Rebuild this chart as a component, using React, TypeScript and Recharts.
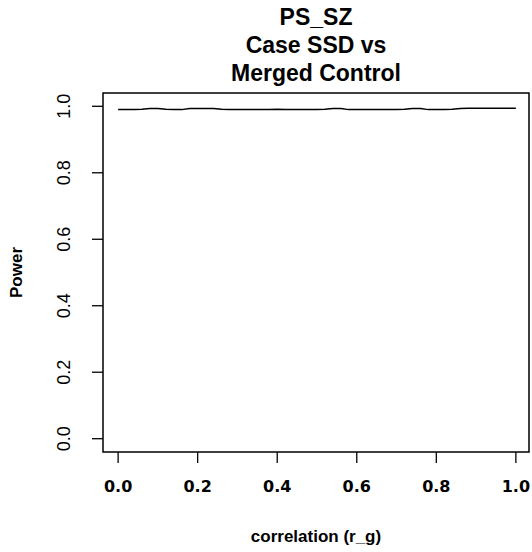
import React from 'react';
import { LineChart, Line, XAxis, YAxis, ReferenceArea, Label } from 'recharts';

// correlation (r_g) grid
const rg = [
  0.0, 0.02, 0.04, 0.06, 0.08, 0.1, 0.12, 0.14, 0.16, 0.18,
  0.2, 0.22, 0.24, 0.26, 0.28, 0.3, 0.32, 0.34, 0.36, 0.38,
  0.4, 0.42, 0.44, 0.46, 0.48, 0.5, 0.52, 0.54, 0.56, 0.58,
  0.6, 0.62, 0.64, 0.66, 0.68, 0.7, 0.72, 0.74, 0.76, 0.78,
  0.8, 0.82, 0.84, 0.86, 0.88, 0.9, 0.92, 0.94, 0.96, 0.98, 1.0,
];

// estimated power at each r_g
const power = [
  0.99, 0.99, 0.99, 0.991, 0.993, 0.993, 0.991, 0.99, 0.99, 0.993,
  0.993, 0.993, 0.993, 0.991, 0.99, 0.99, 0.99, 0.99, 0.99, 0.99,
  0.991, 0.99, 0.99, 0.99, 0.99, 0.99, 0.991, 0.993, 0.993, 0.99,
  0.99, 0.99, 0.99, 0.99, 0.99, 0.99, 0.991, 0.993, 0.993, 0.99,
  0.99, 0.99, 0.991, 0.993, 0.994, 0.994, 0.994, 0.994, 0.994, 0.994, 0.994,
];

const xTicks = [0, 0.2, 0.4, 0.6, 0.8, 1.0];
const yTicks = [0, 0.2, 0.4, 0.6, 0.8, 1.0];
const titleLines = ['PS_SZ', 'Case SSD vs', 'Merged Control'];

const data = rg.map((r, i) => ({ r, power: power[i] }));

const xDomain: [number, number] = [-0.038, 1.033];
const yDomain: [number, number] = [-0.04, 1.04];

const YTick = (props: any) => {
  const { x, y, payload } = props;
  const tx = x - 20;
  return (
    <text
      x={tx}
      y={y}
      transform={`rotate(-90 ${tx} ${y})`}
      textAnchor="middle"
      fontFamily="'Liberation Sans', Arial, sans-serif"
      fontSize={18}
      fill="#000"
    >
      {Number(payload.value).toFixed(1)}
    </text>
  );
};

const App: React.FC = () => {
  return (
    <div style={{ position: 'fixed', top: 0, left: 0, width: 532, height: 552, background: '#fff' }}>
      <div
        style={{
          position: 'absolute',
          top: 3,
          left: 0,
          width: 632,
          textAlign: 'center',
          fontFamily: "'Liberation Sans', Arial, sans-serif",
          fontWeight: 'bold',
          fontSize: 23,
          lineHeight: '28px',
          color: '#000',
        }}
      >
        {titleLines.map((t) => (
          <div key={t}>{t}</div>
        ))}
      </div>
      <LineChart
        width={532}
        height={552}
        data={data}
        margin={{ top: 93, right: 3, bottom: 0, left: 0 }}
      >
        <XAxis
          dataKey="r"
          type="number"
          domain={xDomain}
          ticks={xTicks}
          allowDataOverflow
          axisLine={false}
          tickSize={11}
          tickMargin={18}
          height={100}
          tickLine={{ stroke: '#000', strokeWidth: 1.3 }}
          tick={{
            fill: '#000',
            fontSize: 16,
            fontWeight: 'bold',
            fontFamily: "'DejaVu Sans', sans-serif",
          }}
          tickFormatter={(v: number) => v.toFixed(1)}
        >
          <Label
            value="correlation (r_g)"
            position="insideBottom"
            offset={10}
            style={{
              fill: '#000',
              fontSize: 17,
              fontWeight: 'bold',
              fontFamily: "'Liberation Sans', Arial, sans-serif",
            }}
          />
        </XAxis>
        <YAxis
          type="number"
          domain={yDomain}
          ticks={yTicks}
          allowDataOverflow
          axisLine={false}
          width={103}
          tickSize={11}
          tickLine={{ stroke: '#000', strokeWidth: 1.3 }}
          tick={<YTick />}
        >
          <Label
            content={(p: any) => {
              const vb = p.viewBox || { x: 0, y: 93, width: 103, height: 359 };
              const cx = vb.x + 16;
              const cy = vb.y + vb.height / 2;
              return (
                <text
                  x={cx}
                  y={cy}
                  transform={`rotate(-90 ${cx} ${cy})`}
                  textAnchor="middle"
                  dominantBaseline="central"
                  fontFamily="'Liberation Sans', Arial, sans-serif"
                  fontWeight="bold"
                  fontSize={17}
                  fill="#000"
                >
                  Power
                </text>
              );
            }}
          />
        </YAxis>
        <ReferenceArea
          x1={xDomain[0]}
          x2={xDomain[1]}
          y1={yDomain[0]}
          y2={yDomain[1]}
          fill="none"
          stroke="#000"
          strokeWidth={1.5}
          fillOpacity={0}
          ifOverflow="visible"
        />
        <Line
          type="linear"
          dataKey="power"
          stroke="#000"
          strokeWidth={1.5}
          dot={false}
          isAnimationActive={false}
        />
      </LineChart>
    </div>
  );
};

export default App;
